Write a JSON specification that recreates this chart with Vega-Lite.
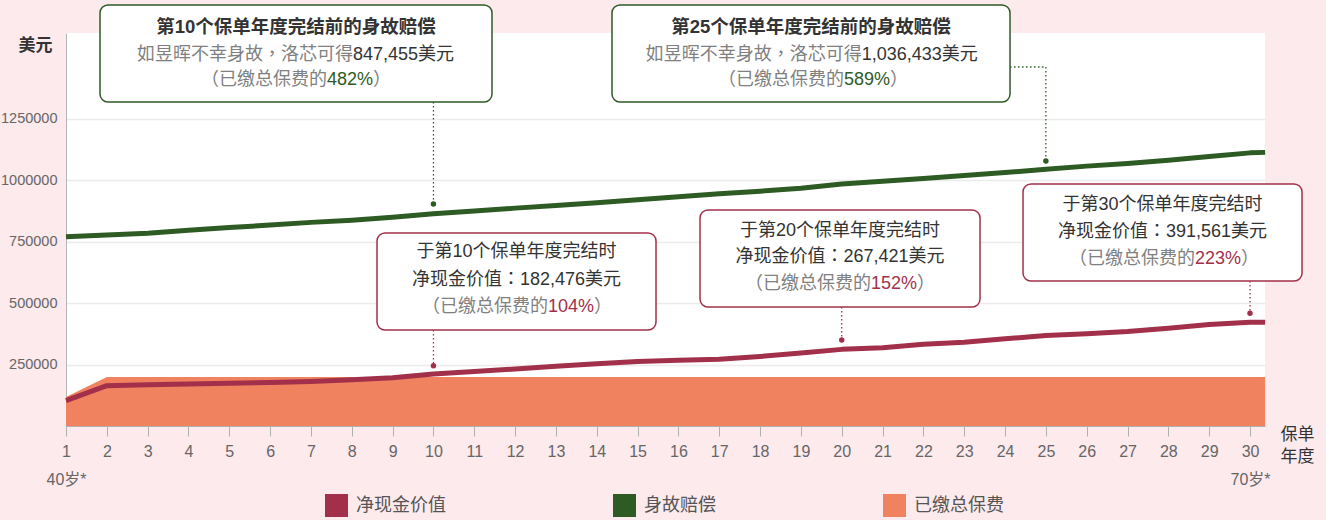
{
  "$schema": "https://vega.github.io/schema/vega-lite/v6.json",
  "autosize": {"type": "none"},
  "width": 1199,
  "height": 393,
  "padding": {"left": 66, "top": 33, "right": 61, "bottom": 94},
  "background": "#fdeaed",
  "view": {"fill": "#ffffff", "stroke": null},
  "config": {"font": "Liberation Sans, Noto Sans CJK TC, sans-serif"},
  "datasets": {
    "series": [
      {"year": 1, "value": 118000, "series": "已缴总保费"},
      {"year": 2, "value": 200000, "series": "已缴总保费"},
      {"year": 3, "value": 200000, "series": "已缴总保费"},
      {"year": 4, "value": 200000, "series": "已缴总保费"},
      {"year": 5, "value": 200000, "series": "已缴总保费"},
      {"year": 6, "value": 200000, "series": "已缴总保费"},
      {"year": 7, "value": 200000, "series": "已缴总保费"},
      {"year": 8, "value": 200000, "series": "已缴总保费"},
      {"year": 9, "value": 200000, "series": "已缴总保费"},
      {"year": 10, "value": 200000, "series": "已缴总保费"},
      {"year": 11, "value": 200000, "series": "已缴总保费"},
      {"year": 12, "value": 200000, "series": "已缴总保费"},
      {"year": 13, "value": 200000, "series": "已缴总保费"},
      {"year": 14, "value": 200000, "series": "已缴总保费"},
      {"year": 15, "value": 200000, "series": "已缴总保费"},
      {"year": 16, "value": 200000, "series": "已缴总保费"},
      {"year": 17, "value": 200000, "series": "已缴总保费"},
      {"year": 18, "value": 200000, "series": "已缴总保费"},
      {"year": 19, "value": 200000, "series": "已缴总保费"},
      {"year": 20, "value": 200000, "series": "已缴总保费"},
      {"year": 21, "value": 200000, "series": "已缴总保费"},
      {"year": 22, "value": 200000, "series": "已缴总保费"},
      {"year": 23, "value": 200000, "series": "已缴总保费"},
      {"year": 24, "value": 200000, "series": "已缴总保费"},
      {"year": 25, "value": 200000, "series": "已缴总保费"},
      {"year": 26, "value": 200000, "series": "已缴总保费"},
      {"year": 27, "value": 200000, "series": "已缴总保费"},
      {"year": 28, "value": 200000, "series": "已缴总保费"},
      {"year": 29, "value": 200000, "series": "已缴总保费"},
      {"year": 30, "value": 200000, "series": "已缴总保费"},
      {"year": 30.37, "value": 200000, "series": "已缴总保费"},
      {"year": 1, "value": 103000, "series": "净现金价值"},
      {"year": 2, "value": 164000, "series": "净现金价值"},
      {"year": 3, "value": 168000, "series": "净现金价值"},
      {"year": 4, "value": 171000, "series": "净现金价值"},
      {"year": 5, "value": 174000, "series": "净现金价值"},
      {"year": 6, "value": 177000, "series": "净现金价值"},
      {"year": 7, "value": 181000, "series": "净现金价值"},
      {"year": 8, "value": 188000, "series": "净现金价值"},
      {"year": 9, "value": 196000, "series": "净现金价值"},
      {"year": 10, "value": 212000, "series": "净现金价值"},
      {"year": 11, "value": 222000, "series": "净现金价值"},
      {"year": 12, "value": 232000, "series": "净现金价值"},
      {"year": 13, "value": 243000, "series": "净现金价值"},
      {"year": 14, "value": 253000, "series": "净现金价值"},
      {"year": 15, "value": 263000, "series": "净现金价值"},
      {"year": 16, "value": 268000, "series": "净现金价值"},
      {"year": 17, "value": 272000, "series": "净现金价值"},
      {"year": 18, "value": 283000, "series": "净现金价值"},
      {"year": 19, "value": 297000, "series": "净现金价值"},
      {"year": 20, "value": 312000, "series": "净现金价值"},
      {"year": 21, "value": 319000, "series": "净现金价值"},
      {"year": 22, "value": 333000, "series": "净现金价值"},
      {"year": 23, "value": 341000, "series": "净现金价值"},
      {"year": 24, "value": 355000, "series": "净现金价值"},
      {"year": 25, "value": 368000, "series": "净现金价值"},
      {"year": 26, "value": 376000, "series": "净现金价值"},
      {"year": 27, "value": 385000, "series": "净现金价值"},
      {"year": 28, "value": 398000, "series": "净现金价值"},
      {"year": 29, "value": 413000, "series": "净现金价值"},
      {"year": 30, "value": 422000, "series": "净现金价值"},
      {"year": 30.37, "value": 422000, "series": "净现金价值"},
      {"year": 1, "value": 770000, "series": "身故赔偿"},
      {"year": 2, "value": 778000, "series": "身故赔偿"},
      {"year": 3, "value": 785000, "series": "身故赔偿"},
      {"year": 4, "value": 797000, "series": "身故赔偿"},
      {"year": 5, "value": 808000, "series": "身故赔偿"},
      {"year": 6, "value": 818000, "series": "身故赔偿"},
      {"year": 7, "value": 829000, "series": "身故赔偿"},
      {"year": 8, "value": 838000, "series": "身故赔偿"},
      {"year": 9, "value": 850000, "series": "身故赔偿"},
      {"year": 10, "value": 864000, "series": "身故赔偿"},
      {"year": 11, "value": 875000, "series": "身故赔偿"},
      {"year": 12, "value": 887000, "series": "身故赔偿"},
      {"year": 13, "value": 898000, "series": "身故赔偿"},
      {"year": 14, "value": 909000, "series": "身故赔偿"},
      {"year": 15, "value": 921000, "series": "身故赔偿"},
      {"year": 16, "value": 933000, "series": "身故赔偿"},
      {"year": 17, "value": 946000, "series": "身故赔偿"},
      {"year": 18, "value": 956000, "series": "身故赔偿"},
      {"year": 19, "value": 968000, "series": "身故赔偿"},
      {"year": 20, "value": 985000, "series": "身故赔偿"},
      {"year": 21, "value": 996000, "series": "身故赔偿"},
      {"year": 22, "value": 1008000, "series": "身故赔偿"},
      {"year": 23, "value": 1020000, "series": "身故赔偿"},
      {"year": 24, "value": 1032000, "series": "身故赔偿"},
      {"year": 25, "value": 1045000, "series": "身故赔偿"},
      {"year": 26, "value": 1058000, "series": "身故赔偿"},
      {"year": 27, "value": 1069000, "series": "身故赔偿"},
      {"year": 28, "value": 1082000, "series": "身故赔偿"},
      {"year": 29, "value": 1097000, "series": "身故赔偿"},
      {"year": 30, "value": 1112000, "series": "身故赔偿"},
      {"year": 30.37, "value": 1114000, "series": "身故赔偿"}
    ],
    "boxes": [
      {"year": 1.833, "year2": 11.434, "value": 1714000, "value2": 1319085, "series": "身故赔偿"},
      {"year": 14.373, "year2": 24.122, "value": 1714000, "value2": 1319085, "series": "身故赔偿"},
      {"year": 8.6175, "year2": 15.451, "value": 785751, "value2": 390840, "series": "净现金价值"},
      {"year": 16.529, "year2": 23.387, "value": 879390, "value2": 484479, "series": "净现金价值"},
      {"year": 24.44, "year2": 31.274, "value": 985243, "value2": 590331, "series": "净现金价值"}
    ],
    "leaders": [
      {"year": 10, "year2": 10, "value": 1319085, "value2": 903818, "series": "身故赔偿"},
      {"year": 24.122, "year2": 25, "value": 1461579, "value2": 1461579, "series": "身故赔偿"},
      {"year": 25, "year2": 25, "value": 1461579, "value2": 1078881, "series": "身故赔偿"},
      {"year": 10, "year2": 10, "value": 390840, "value2": 245500, "series": "净现金价值"},
      {"year": 20, "year2": 20, "value": 484479, "value2": 350100, "series": "净现金价值"},
      {"year": 30, "year2": 30, "value": 590331, "value2": 458800, "series": "净现金价值"}
    ],
    "dots": [
      {"year": 10, "value": 903818, "series": "身故赔偿"},
      {"year": 25, "value": 1078881, "series": "身故赔偿"},
      {"year": 10, "value": 245500, "series": "净现金价值"},
      {"year": 20, "value": 350100, "series": "净现金价值"},
      {"year": 30, "value": 458800, "series": "净现金价值"}
    ],
    "notes": [
      {"year": 6.633, "value": 1622393, "text": "第10个保单年度完结前的身故赔偿", "part": "title", "series": "身故赔偿"},
      {"year": 8.03, "value": 1510434, "text": "如昱晖不幸身故，洛芯可得", "part": "pre", "series": "身故赔偿"},
      {"year": 8.03, "value": 1510434, "text": "847,455美元", "part": "amount", "series": "身故赔偿"},
      {"year": 7.393, "value": 1408653, "text": "（已缴总保费的", "part": "pre", "series": "身故赔偿"},
      {"year": 7.393, "value": 1408653, "text": "482%", "part": "pct", "series": "身故赔偿"},
      {"year": 8.52, "value": 1408653, "text": "）", "part": "post", "series": "身故赔偿"},
      {"year": 19.248, "value": 1622393, "text": "第25个保单年度完结前的身故赔偿", "part": "title", "series": "身故赔偿"},
      {"year": 20.489, "value": 1510434, "text": "如昱晖不幸身故，洛芯可得", "part": "pre", "series": "身故赔偿"},
      {"year": 20.489, "value": 1510434, "text": "1,036,433美元", "part": "amount", "series": "身故赔偿"},
      {"year": 20.056, "value": 1408653, "text": "（已缴总保费的", "part": "pre", "series": "身故赔偿"},
      {"year": 20.056, "value": 1408653, "text": "589%", "part": "pct", "series": "身故赔偿"},
      {"year": 21.183, "value": 1408653, "text": "）", "part": "post", "series": "身故赔偿"},
      {"year": 12.034, "value": 708398, "text": "于第10个保单年度完结时", "part": "head", "series": "净现金价值"},
      {"year": 12.034, "value": 594403, "text": "净现金价值：182,476美元", "part": "head", "series": "净现金价值"},
      {"year": 12.806, "value": 482443, "text": "（已缴总保费的", "part": "pre", "series": "净现金价值"},
      {"year": 12.806, "value": 482443, "text": "104%", "part": "pct", "series": "净现金价值"},
      {"year": 13.933, "value": 482443, "text": "）", "part": "post", "series": "净现金价值"},
      {"year": 19.958, "value": 793894, "text": "于第20个保单年度完结时", "part": "head", "series": "净现金价值"},
      {"year": 19.958, "value": 688041, "text": "净现金价值：267,421美元", "part": "head", "series": "净现金价值"},
      {"year": 20.717, "value": 576082, "text": "（已缴总保费的", "part": "pre", "series": "净现金价值"},
      {"year": 20.717, "value": 576082, "text": "152%", "part": "pct", "series": "净现金价值"},
      {"year": 21.844, "value": 576082, "text": "）", "part": "post", "series": "净现金价值"},
      {"year": 27.857, "value": 899746, "text": "于第30个保单年度完结时", "part": "head", "series": "净现金价值"},
      {"year": 27.857, "value": 789823, "text": "净现金价值：391,561美元", "part": "head", "series": "净现金价值"},
      {"year": 28.653, "value": 679899, "text": "（已缴总保费的", "part": "pre", "series": "净现金价值"},
      {"year": 28.653, "value": 679899, "text": "223%", "part": "pct", "series": "净现金价值"},
      {"year": 29.78, "value": 679899, "text": "）", "part": "post", "series": "净现金价值"}
    ]
  },
  "encoding": {
    "x": {
      "field": "year", "type": "quantitative",
      "scale": {"domain": [1, 30.367], "nice": false, "zero": false},
      "axis": {
        "values": [1,2,3,4,5,6,7,8,9,10,11,12,13,14,15,16,17,18,19,20,21,22,23,24,25,26,27,28,29,30],
        "format": "d",
        "grid": false,
        "tickSize": 10, "tickColor": "#b0b0b0", "domainColor": "#b0b0b0",
        "labelFont": "Liberation Sans, Noto Sans CJK TC",
        "labelFontSize": 16, "labelColor": "#666666", "labelPadding": 7,
        "labelFlush": false, "labelOverlap": false,
        "labelExpr": "datum.value == 1 ? ['1', '40岁*'] : datum.value == 30 ? ['30', '70岁*'] : datum.label",
        "labelLineHeight": 28,
        "title": ["保单", "年度"],
        "titleFont": "Noto Sans CJK TC", "titleFontSize": 17, "titleFontWeight": "normal", "titleColor": "#333333",
        "titleX": 1231, "titleY": 0, "titleAlign": "center", "titleBaseline": "top", "titleLineHeight": 22
      }
    },
    "y": {
      "field": "value", "type": "quantitative",
      "scale": {"domain": [0, 1600000], "nice": false, "zero": true},
      "axis": {
        "values": [250000, 500000, 750000, 1000000, 1250000],
        "format": "d",
        "ticks": false,
        "grid": true, "gridColor": "#ebebeb", "gridWidth": 1.5,
        "domainColor": "#b5b5b5",
        "labelFont": "Liberation Sans",
        "labelFontSize": 14.5, "labelColor": "#666666", "labelPadding": 9,
        "title": "美元",
        "titleAngle": 0, "titleX": -31, "titleY": 12, "titleAlign": "center", "titleBaseline": "middle",
        "titleFont": "Noto Sans CJK TC", "titleFontSize": 17, "titleFontWeight": "bold", "titleColor": "#333333"
      }
    }
  },
  "layer": [
    {
      "data": {"name": "series"},
      "transform": [{"filter": "datum.series == '已缴总保费'"}],
      "mark": {"type": "area", "opacity": 1, "interpolate": "linear"},
      "encoding": {
        "color": {
          "field": "series", "type": "nominal",
          "scale": {"domain": ["净现金价值", "身故赔偿", "已缴总保费"], "range": ["#a2304a", "#2e5b24", "#f0825f"]},
          "legend": {
            "orient": "none", "legendX": 259, "legendY": 461, "direction": "horizontal",
            "title": null, "symbolType": "square", "symbolSize": 529, "symbolStrokeWidth": 0, "symbolOpacity": 1,
            "labelFont": "Noto Sans CJK TC", "labelFontSize": 18, "labelColor": "#555555", "labelOffset": 8,
            "columnPadding": 167, "gridAlign": "none", "labelLimit": 0
          }
        }
      }
    },
    {
      "data": {"name": "series"},
      "transform": [{"filter": "datum.series != '已缴总保费'"}],
      "mark": {"type": "line", "strokeWidth": 5, "strokeJoin": "round", "interpolate": "linear"},
      "encoding": {
        "color": {"field": "series", "type": "nominal", "legend": null}
      }
    },
    {
      "data": {"name": "leaders"},
      "mark": {"type": "rule", "strokeWidth": 1.3, "strokeDash": [1.5, 2.5]},
      "encoding": {
        "x2": {"field": "year2"},
        "y2": {"field": "value2"},
        "color": {"field": "series", "type": "nominal", "legend": null}
      }
    },
    {
      "data": {"name": "dots"},
      "mark": {"type": "point", "filled": true, "shape": "circle", "size": 30, "opacity": 1},
      "encoding": {
        "color": {"field": "series", "type": "nominal", "legend": null}
      }
    },
    {
      "data": {"name": "boxes"},
      "mark": {"type": "rect", "fill": "#ffffff", "strokeWidth": 1.5, "cornerRadius": 8},
      "encoding": {
        "x2": {"field": "year2"},
        "y2": {"field": "value2"},
        "stroke": {
          "field": "series", "type": "nominal",
          "scale": {"domain": ["净现金价值", "身故赔偿"], "range": ["#a2304a", "#2e5b24"]},
          "legend": null
        }
      }
    },
    {
      "data": {"name": "notes"},
      "transform": [{"filter": "datum.part == 'title'"}],
      "mark": {"type": "text", "align": "center", "baseline": "middle", "fontSize": 18.5, "fontWeight": "bold", "color": "#333333"},
      "encoding": {"text": {"field": "text"}}
    },
    {
      "data": {"name": "notes"},
      "transform": [{"filter": "datum.part == 'head'"}],
      "mark": {"type": "text", "align": "center", "baseline": "middle", "fontSize": 18, "color": "#333333"},
      "encoding": {"text": {"field": "text"}}
    },
    {
      "data": {"name": "notes"},
      "transform": [{"filter": "datum.part == 'pre'"}],
      "mark": {"type": "text", "align": "right", "baseline": "middle", "fontSize": 18, "color": "#808080"},
      "encoding": {"text": {"field": "text"}}
    },
    {
      "data": {"name": "notes"},
      "transform": [{"filter": "datum.part == 'amount'"}],
      "mark": {"type": "text", "align": "left", "baseline": "middle", "fontSize": 18, "color": "#333333"},
      "encoding": {"text": {"field": "text"}}
    },
    {
      "data": {"name": "notes"},
      "transform": [{"filter": "datum.part == 'post'"}],
      "mark": {"type": "text", "align": "left", "baseline": "middle", "fontSize": 18, "color": "#808080"},
      "encoding": {"text": {"field": "text"}}
    },
    {
      "data": {"name": "notes"},
      "transform": [{"filter": "datum.part == 'pct'"}],
      "mark": {"type": "text", "align": "left", "baseline": "middle", "fontSize": 18},
      "encoding": {
        "text": {"field": "text"},
        "color": {"field": "series", "type": "nominal", "legend": null}
      }
    }
  ]
}
